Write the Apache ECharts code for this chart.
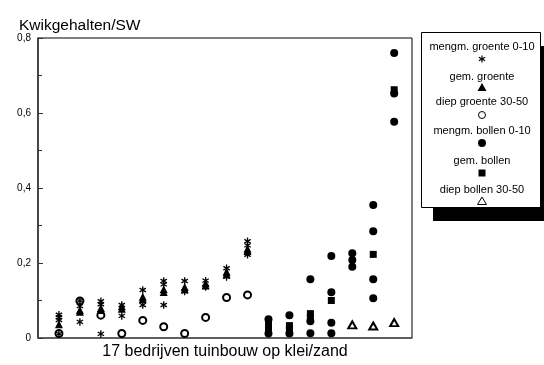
<!DOCTYPE html>
<html>
<head>
<meta charset="utf-8">
<script src="https://cdn.jsdelivr.net/npm/echarts@6/dist/echarts.min.js"></script>
<style>
  html, body { margin: 0; padding: 0; background: #fff; }
  #chart { width: 544px; height: 365px; }
</style>
</head>
<body>
<div id="chart"></div>
<script>
// Mercury content per company (17 horticulture farms on clay/sand)
const groenteCompanies = [1, 2, 3, 4, 5, 6, 7, 8, 9, 10];
const bollenCompanies = [11, 12, 13, 14, 15, 16, 17];

// vegetables: mixed sample 0-10 cm (several samples per company)
const mengmGroente = [
  [0.062, 0.055, 0.048, 0.011],
  [0.099, 0.085, 0.043],
  [0.098, 0.090, 0.011],
  [0.088, 0.059],
  [0.128, 0.088],
  [0.152, 0.143, 0.088],
  [0.152, 0.124],
  [0.153, 0.136],
  [0.186, 0.163],
  [0.258, 0.247, 0.222]
];
// vegetables: mean
const gemGroente = [
  [0.037],
  [0.075, 0.070],
  [0.080, 0.075],
  [0.085, 0.078],
  [0.110, 0.104],
  [0.130, 0.123],
  [0.136, 0.130],
  [0.146, 0.140],
  [0.177, 0.170],
  [0.238, 0.232]
];
// vegetables: deep 30-50 cm
const diepGroente = [0.012, 0.099, 0.061, 0.012, 0.047, 0.030, 0.012, 0.055, 0.108, 0.115];

// bulbs: mixed sample 0-10 cm
const mengmBollen = [
  [0.050, 0.012],
  [0.061, 0.012],
  [0.157, 0.045, 0.013],
  [0.219, 0.122, 0.041, 0.013],
  [0.226, 0.208, 0.190],
  [0.355, 0.285, 0.157, 0.106],
  [0.760, 0.652, 0.577]
];
// bulbs: mean
const gemBollen = [
  [0.038, 0.028],
  [0.033, 0.023],
  [0.065, 0.055],
  [0.100],
  [],
  [0.223],
  [0.662]
];
// bulbs: deep 30-50 cm
const diepBollen = [null, null, null, null, 0.035, 0.032, 0.041];

const yTicks = ['0', '0,2', '0,4', '0,6', '0,8'];
const seriesNames = ['mengm. groente 0-10', 'gem. groente', 'diep groente 30-50',
                     'mengm. bollen 0-10', 'gem. bollen', 'diep bollen 30-50'];

function points(companies, values) {
  const out = [];
  companies.forEach((c, i) => {
    const v = values[i];
    if (v === null || v === undefined) return;
    (Array.isArray(v) ? v : [v]).forEach(y => out.push([c, y]));
  });
  return out;
}

const asterisk = 'path://M-9,-50L9,-50L9,50L-9,50ZM38.8,-32.8L47.8,-17.2L-38.8,32.8L-47.8,17.2ZM-47.8,-17.2L-38.8,-32.8L47.8,17.2L38.8,32.8Z';
const FONT = 'Liberation Sans, Arial, sans-serif';

const chart = echarts.init(document.getElementById('chart'), null, { renderer: 'canvas' });

// legend box: text centred above its marker, with a drop shadow
const LX = 482;
const legendRows = [
  { t: 47, s: 59 }, { t: 77, s: 87 }, { t: 102, s: 115 },
  { t: 131, s: 143 }, { t: 161, s: 173 }, { t: 190, s: 201 }
];
const legendGraphics = [
  { type: 'rect', shape: { x: 433, y: 46, width: 119, height: 175 }, style: { fill: '#000' }, z: 10 },
  { type: 'rect', shape: { x: 421.5, y: 32.5, width: 119, height: 175 }, style: { fill: '#fff', stroke: '#000', lineWidth: 1 }, z: 11 }
];
seriesNames.forEach((name, i) => {
  legendGraphics.push({
    type: 'text', x: LX, y: legendRows[i].t, z: 12,
    style: { text: name, font: '11px ' + FONT, fill: '#000', align: 'center', verticalAlign: 'middle' }
  });
});
const sy = legendRows.map(r => r.s);
// asterisk legend marker: three thin bars crossing at the centre
[0, 60, -60].forEach(deg => {
  legendGraphics.push({
    type: 'rect', z: 12, x: LX, y: sy[0], rotation: deg * Math.PI / 180,
    shape: { x: -0.6, y: -3.6, width: 1.2, height: 7.2 }, style: { fill: '#000' }
  });
});
legendGraphics.push(
  { type: 'polygon', z: 12, shape: { points: [[LX, sy[1] - 4], [LX + 4.5, sy[1] + 4], [LX - 4.5, sy[1] + 4]] }, style: { fill: '#000' } },
  { type: 'circle', z: 12, shape: { cx: LX, cy: sy[2], r: 3.5 }, style: { fill: '#fff', stroke: '#000', lineWidth: 1 } },
  { type: 'circle', z: 12, shape: { cx: LX, cy: sy[3], r: 4 }, style: { fill: '#000' } },
  { type: 'rect', z: 12, shape: { x: LX - 3.5, y: sy[4] - 3.5, width: 7, height: 7 }, style: { fill: '#000' } },
  { type: 'polygon', z: 12, shape: { points: [[LX, sy[5] - 4], [LX + 4.5, sy[5] + 3.5], [LX - 4.5, sy[5] + 3.5]] }, style: { fill: '#fff', stroke: '#000', lineWidth: 1 } }
);

const dark = { color: '#000', opacity: 1 };

const option = {
  animation: false,
  backgroundColor: '#fff',
  title: {
    text: 'Kwikgehalten/SW', left: 14, top: 13,
    textStyle: { fontFamily: FONT, fontSize: 15.5, fontWeight: 'normal', color: '#000' }
  },
  grid: {
    left: 38, right: 132, top: 38, bottom: 27, outerBoundsMode: 'none', containLabel: false,
    show: true, borderColor: '#000', borderWidth: 1, backgroundColor: 'transparent'
  },
  xAxis: {
    type: 'value', min: 0, max: 17.85,
    name: '17 bedrijven tuinbouw op klei/zand', nameLocation: 'middle', nameGap: 6,
    nameTextStyle: { fontFamily: FONT, fontSize: 16, color: '#000', verticalAlign: 'top' },
    axisLine: { show: true, lineStyle: { color: '#555', width: 1.5 } },
    axisTick: { show: false }, axisLabel: { show: false }, splitLine: { show: false }
  },
  yAxis: {
    type: 'value', min: 0, max: 0.8, interval: 0.2,
    axisLine: { show: true, lineStyle: { color: '#333', width: 1.5 } },
    axisTick: { show: true, inside: true, length: 5, lineStyle: { color: '#333' } },
    minorTick: { show: true, splitNumber: 2, length: 4, lineStyle: { color: '#333' } },
    splitLine: { show: false },
    axisLabel: {
      margin: 7, fontFamily: FONT, fontSize: 10, color: '#000',
      formatter: v => yTicks[Math.round(v / 0.2)]
    }
  },
  graphic: legendGraphics,
  series: [
    { name: seriesNames[2], type: 'scatter', data: points(groenteCompanies, diepGroente),
      symbol: 'emptyCircle', symbolSize: 7, itemStyle: Object.assign({ borderColor: '#000', borderWidth: 1 }, dark) },
    { name: seriesNames[1], type: 'scatter', data: points(groenteCompanies, gemGroente),
      symbol: 'triangle', symbolSize: [8, 8], itemStyle: dark },
    { name: seriesNames[0], type: 'scatter', data: points(groenteCompanies, mengmGroente),
      symbol: asterisk, symbolSize: [7, 7.5], itemStyle: dark },
    { name: seriesNames[4], type: 'scatter', data: points(bollenCompanies, gemBollen),
      symbol: 'rect', symbolSize: 7, itemStyle: dark },
    { name: seriesNames[3], type: 'scatter', data: points(bollenCompanies, mengmBollen),
      symbol: 'circle', symbolSize: 8, itemStyle: dark },
    { name: seriesNames[5], type: 'scatter', data: points(bollenCompanies, diepBollen),
      symbol: 'emptyTriangle', symbolSize: [8, 7], itemStyle: Object.assign({ borderColor: '#000', borderWidth: 1 }, dark) }
  ]
};
chart.setOption(option);
</script>
</body>
</html>
